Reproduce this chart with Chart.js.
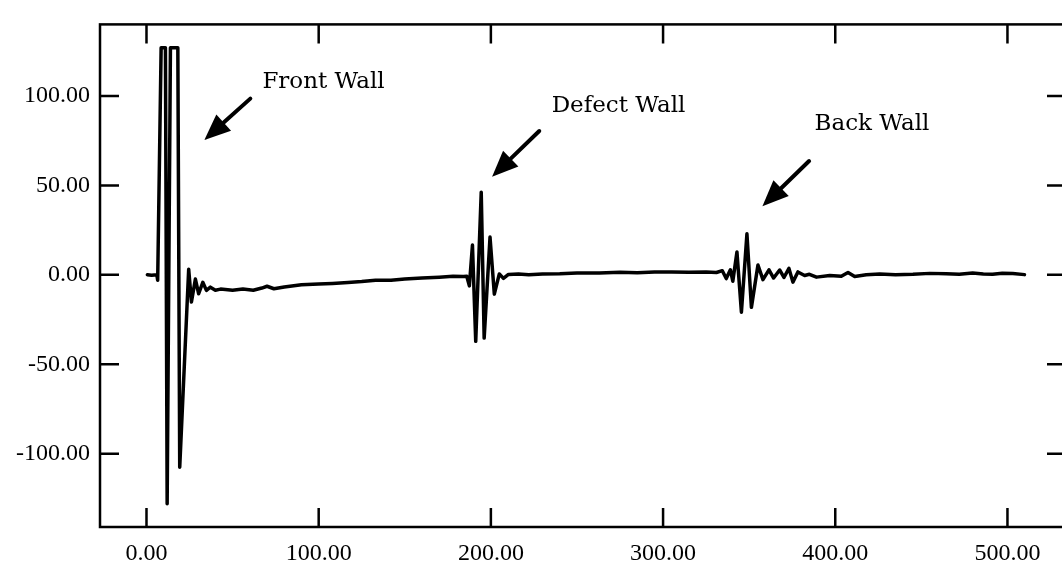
<!DOCTYPE html>
<html>
<head>
<meta charset="utf-8">
<title>A-scan: front, defect and back wall echoes</title>
<script src="https://cdn.jsdelivr.net/npm/chart.js@4.4.1/dist/chart.umd.min.js"></script>
<style>
  html, body { margin: 0; padding: 0; background: #fff; overflow: hidden; }
  canvas { display: block; }
</style>
</head>
<body>
<canvas id="ascan" width="1070" height="575"></canvas>
<script>
// Breakpoints of the trace (time axis / amplitude).
var TIME = [
  0.5, 3, 6.0, 6.5, 8.5, 11.0, 12.0, 13.9, 18.2, 19.3,
  24.5, 26.1, 28.4, 30.3, 32.7, 34.8, 37.1, 40, 43, 50,
  56, 62, 67, 70, 74, 80, 90, 100, 108, 117,
  125, 133, 142, 150, 160, 170, 178, 184,
  186.0, 187.5, 189.3, 191.2, 194.4, 196.1, 199.5, 202.0, 204.9, 207.3,
  210.2, 216, 222, 230, 240, 250, 263, 275, 285, 295,
  305, 315, 325, 331,
  334.4, 336.7, 339.1, 340.5, 342.9, 345.5, 348.7, 351.3, 355.1, 358.0,
  361.5, 364.2, 367.7, 370.2, 373.1, 375.4, 378.3, 382.2, 385, 389.1,
  396.8, 403.5, 407.4, 411.3, 418, 425.8, 435, 445.1, 455, 464.5,
  472, 479.8, 486, 491.4, 497, 503.1, 509.9
];
var AMPLITUDE = [
  0, -0.3, 0, -3, 127, 127, -128, 127, 127, -107.6,
  3.1, -15.2, -2.4, -10.6, -4.2, -8.7, -6.9, -8.6, -8.0, -8.6,
  -8.0, -8.6, -7.4, -6.4, -7.8, -6.8, -5.6, -5.2, -4.8, -4.3,
  -3.8, -3.0, -3.1, -2.4, -1.8, -1.3, -0.8, -0.9,
  -0.8, -6.2, 16.6, -37.2, 46.2, -35.4, 21.1, -10.8, 0.5, -2.0,
  0.2, 0.4, 0.0, 0.5, 0.6, 1.0, 1.0, 1.4, 1.2, 1.5,
  1.6, 1.4, 1.5, 1.3,
  2.3, -2.1, 2.8, -3.6, 12.8, -20.9, 22.9, -18.2, 5.5, -2.7,
  2.8, -1.8, 2.7, -1.5, 3.6, -4.1, 1.6, -0.4, 0.3, -1.3,
  -0.4, -0.8, 1.3, -1.0, 0.0, 0.5, 0.1, 0.3, 0.8, 0.6,
  0.3, 1.0, 0.5, 0.3, 0.9, 0.7, 0.1
];
var X_TICKS = [0, 100, 200, 300, 400, 500];
var Y_TICKS = [-100, -50, 0, 50, 100];

// Echo labels; anchors are in data units (text origin, arrow tail, arrow tip).
var NOTE_LABELS = ['Front Wall', 'Defect Wall', 'Back Wall'];
var NOTE_TEXT_AT = [[67.3, 104.6], [235.3, 90.9], [388, 80.9]];
var NOTE_ARROW_FROM = [[60.3, 98.5], [228.1, 80.4], [384.8, 63.6]];
var NOTE_ARROW_TO = [[33.6, 75.4], [200.7, 54.8], [357.7, 38.3]];

(function () {
  'use strict';

  var INK = '#000';
  var TICK_FONT = { family: '"Liberation Serif", "DejaVu Serif", serif', size: 24 };
  var NOTE_FONT = '23px "DejaVu Serif", "Liberation Serif", serif';

  // Box around the plot with short inward ticks on all four sides.
  var framePlugin = {
    id: 'frame',
    afterDraw: function (chart) {
      var ctx = chart.ctx;
      var a = chart.chartArea;
      var xs = chart.scales.x;
      var ys = chart.scales.y;
      var len = 19;
      ctx.save();
      ctx.strokeStyle = INK;
      ctx.lineWidth = 2.5;
      ctx.strokeRect(a.left, a.top, a.right - a.left, a.bottom - a.top);
      ctx.beginPath();
      xs.ticks.forEach(function (t) {
        var px = xs.getPixelForValue(t.value);
        ctx.moveTo(px, a.bottom); ctx.lineTo(px, a.bottom - len);
        ctx.moveTo(px, a.top); ctx.lineTo(px, a.top + len);
      });
      ys.ticks.forEach(function (t) {
        var py = ys.getPixelForValue(t.value);
        ctx.moveTo(a.left, py); ctx.lineTo(a.left + len, py);
        ctx.moveTo(a.right, py); ctx.lineTo(a.right - len, py);
      });
      ctx.stroke();
      ctx.restore();
    }
  };

  function drawArrow(ctx, x0, y0, x1, y1) {
    var ang = Math.atan2(y1 - y0, x1 - x0);
    var head = 26;
    var half = 11;
    var bx = x1 - head * Math.cos(ang);
    var by = y1 - head * Math.sin(ang);
    ctx.beginPath();
    ctx.moveTo(x0, y0);
    ctx.lineTo(bx, by);
    ctx.stroke();
    ctx.beginPath();
    ctx.moveTo(x1, y1);
    ctx.lineTo(bx + half * Math.sin(ang), by - half * Math.cos(ang));
    ctx.lineTo(bx - half * Math.sin(ang), by + half * Math.cos(ang));
    ctx.closePath();
    ctx.fill();
  }

  var notesPlugin = {
    id: 'echoNotes',
    afterDatasetsDraw: function (chart) {
      var ctx = chart.ctx;
      var xs = chart.scales.x;
      var ys = chart.scales.y;
      ctx.save();
      ctx.fillStyle = INK;
      ctx.strokeStyle = INK;
      ctx.lineWidth = 4;
      ctx.lineCap = 'round';
      ctx.font = NOTE_FONT;
      ctx.textAlign = 'left';
      ctx.textBaseline = 'alphabetic';
      NOTE_LABELS.forEach(function (text, i) {
        ctx.fillText(text, xs.getPixelForValue(NOTE_TEXT_AT[i][0]), ys.getPixelForValue(NOTE_TEXT_AT[i][1]));
        drawArrow(ctx,
          xs.getPixelForValue(NOTE_ARROW_FROM[i][0]), ys.getPixelForValue(NOTE_ARROW_FROM[i][1]),
          xs.getPixelForValue(NOTE_ARROW_TO[i][0]), ys.getPixelForValue(NOTE_ARROW_TO[i][1]));
      });
      ctx.restore();
    }
  };

  function fixedTicks(values) {
    return function (scale) {
      scale.ticks = values.map(function (v) { return { value: v }; });
    };
  }

  function twoDecimals(v) { return Number(v).toFixed(2); }

  var points = TIME.map(function (t, i) { return { x: t, y: AMPLITUDE[i] }; });

  new Chart(document.getElementById('ascan'), {
    type: 'line',
    data: {
      datasets: [{
        data: points,
        borderColor: INK,
        borderWidth: 3.5,
        borderJoinStyle: 'round',
        borderCapStyle: 'round',
        pointRadius: 0,
        tension: 0,
        fill: false
      }]
    },
    options: {
      responsive: false,
      animation: false,
      devicePixelRatio: 1,
      layout: { padding: { top: 14, right: 4, left: 0, bottom: 0 } },
      plugins: {
        legend: { display: false },
        tooltip: { enabled: false }
      },
      scales: {
        x: {
          type: 'linear',
          min: -27,
          max: 534,
          afterBuildTicks: fixedTicks(X_TICKS),
          afterFit: function (scale) { scale.height = 48; },
          grid: { display: false, drawTicks: false },
          border: { display: false },
          ticks: { callback: twoDecimals, font: TICK_FONT, color: INK, padding: 12, maxRotation: 0, autoSkip: false }
        },
        y: {
          type: 'linear',
          min: -141,
          max: 140,
          afterBuildTicks: fixedTicks(Y_TICKS),
          afterFit: function (scale) { scale.width = 100; },
          grid: { display: false, drawTicks: false },
          border: { display: false },
          ticks: { callback: twoDecimals, font: TICK_FONT, color: INK, padding: 10, autoSkip: false }
        }
      }
    },
    plugins: [framePlugin, notesPlugin]
  });
}());
</script>
</body>
</html>
